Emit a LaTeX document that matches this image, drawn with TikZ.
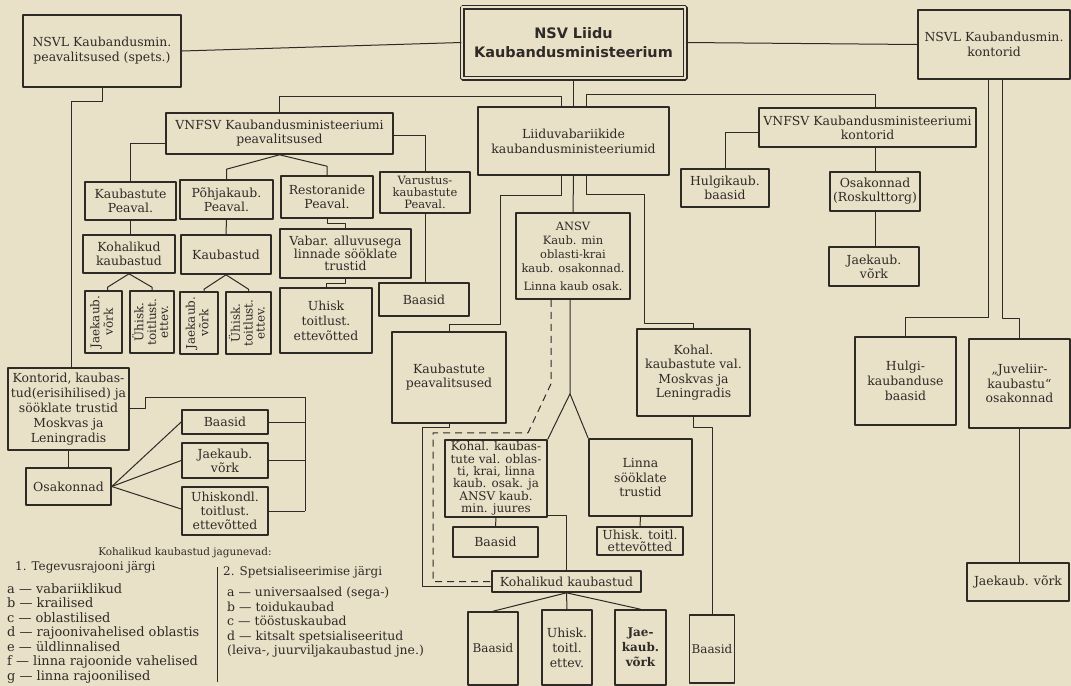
\documentclass[tikz,border=0pt]{standalone}
\usepackage{fontspec}
\setmainfont{DejaVu Serif}
\newfontfamily\titlefont{DejaVu Sans}
\definecolor{paper}{RGB}{233,224,200}
\definecolor{ink}{RGB}{46,42,38}
\begin{document}
\begin{tikzpicture}[line join=bevel,
  box/.style={draw=ink,text=ink,line width=1.6bp,rectangle,inner sep=1bp,align=center,font=\fontsize{12.5}{14}\selectfont},
  mainbox/.style={box,line width=2.4bp,font=\fontsize{12.5}{15}\selectfont},
  titlebox/.style={box,line width=1.5bp,double=paper,double distance=2bp,font=\titlefont\bfseries\fontsize{14.5}{19}\selectfont},
  wh/.style 2 args={minimum width=#1,minimum height=#2},
  link/.style={draw=ink,line width=1bp},
  legend/.style={text=ink,inner sep=0pt},
]
\path [use as bounding box,fill=paper] (0bp,0bp) rectangle (1071bp,-686bp);
%%
\node (nsvl_peav) at (102bp,-51bp) [mainbox,wh={158bp}{72bp}] {NSVL Kaubandusmin.\\peavalitsused (spets.)};
  \node (nsv_liidu) at (573.5bp,-42.5bp) [titlebox,wh={223bp}{71bp}] {NSV Liidu\\Kaubandusministeerium};
  \node (nsvl_kont) at (994bp,-44.5bp) [mainbox,wh={152bp}{69bp}] {NSVL Kaubandusmin.\\kontorid};
  \node (liiduvab) at (573.5bp,-141bp) [mainbox,wh={191bp}{68bp}] {Liiduvabariikide\\kaubandusministeeriumid};
  \node (vnfsv_peav) at (279.5bp,-133.5bp) [box,wh={227bp}{41bp}] {VNFSV Kaubandusministeeriumi\\peavalitsused};
  \node (vnfsv_kont) at (867.5bp,-127.5bp) [box,wh={217bp}{39bp}] {VNFSV Kaubandusministeeriumi\\kontorid};
%
\node (kaub_peav) at (130.5bp,-201bp) [box,wh={91bp}{38bp}] {Kaubastute\\Peaval.};
  \node (pohj_peav) at (226.5bp,-199.5bp) [box,wh={93bp}{39bp}] {Põhjakaub.\\Peaval.};
  \node (rest_peav) at (327bp,-197bp) [box,wh={92bp}{42bp}] {Restoranide\\Peaval.};
  \node (varu_peav) at (425bp,-192.5bp) [box,wh={90bp}{41bp},font=\fontsize{11.5}{12}\selectfont] {Varustus-\\kaubastute\\Peaval.};
  \node (koh_kaub_a) at (129bp,-254bp) [box,wh={92bp}{38bp}] {Kohalikud\\kaubastud};
  \node (kaubastud) at (226bp,-254.5bp) [box,wh={90bp}{39bp}] {Kaubastud};
  \node (vabar_trust) at (345.5bp,-253.5bp) [box,wh={131bp}{49bp},font=\fontsize{12.5}{12.5}\selectfont] {Vabar. alluvusega\\linnade sööklate\\trustid};
  \node (baasid_a) at (424bp,-299.5bp) [box,wh={90bp}{33bp}] {Baasid};
  \node (jae_a) at (103.5bp,-322bp) [box,wh={37bp}{62bp},font=\fontsize{12}{13.5}\selectfont] {\rotatebox{90}{\begin{tabular}{@{}c@{}}Jaekaub.\\võrk\end{tabular}}};
  \node (yhisk_a) at (152bp,-322bp) [box,wh={44bp}{62bp},font=\fontsize{12}{12}\selectfont] {\rotatebox{90}{\begin{tabular}{@{}c@{}}Ühisk.\\toitlust.\\ettev.\end{tabular}}};
  \node (jae_b) at (199bp,-323bp) [box,wh={38bp}{62bp},font=\fontsize{12}{13.5}\selectfont] {\rotatebox{90}{\begin{tabular}{@{}c@{}}Jaekaub.\\võrk\end{tabular}}};
  \node (yhisk_b) at (248.5bp,-323bp) [box,wh={45bp}{62bp},font=\fontsize{12}{12}\selectfont] {\rotatebox{90}{\begin{tabular}{@{}c@{}}Ühisk.\\toitlust.\\ettev.\end{tabular}}};
  \node (yhisk_c) at (326bp,-320.5bp) [box,wh={92bp}{65bp},font=\fontsize{12.5}{15}\selectfont] {Uhisk\\toitlust.\\ettevõtted};
%
\node (kontorid) at (68.5bp,-409bp) [box,wh={121bp}{82bp},font=\fontsize{12.5}{15}\selectfont] {Kontorid, kaubas-\\tud(erisihilised) ja\\sööklate trustid\\Moskvas ja\\Leningradis};
  \node (osak_a) at (68.5bp,-486.5bp) [box,wh={85bp}{37bp}] {Osakonnad};
  \node (baasid_b) at (225bp,-422bp) [box,wh={86bp}{24bp}] {Baasid};
  \node (jae_c) at (225bp,-460.5bp) [box,wh={86bp}{35bp}] {Jaekaub.\\võrk};
  \node (yhisk_d) at (225bp,-511bp) [box,wh={86bp}{48bp}] {Uhiskondl.\\toitlust.\\ettevõtted};
  \coordinate (bus_top) at (305bp,-397bp);
%
\node (ansv) at (573bp,-256bp) [box,wh={114bp}{86bp},font=\fontsize{11.5}{14}\selectfont] {ANSV\\Kaub. min\\oblasti-krai\\kaub. osakonnad.\\[4bp]Linna kaub osak.};
  \node (kaub_pv) at (449bp,-377.5bp) [box,wh={114bp}{91bp}] {Kaubastute\\peavalitsused};
  \node (koh_mosk) at (693.5bp,-372.5bp) [box,wh={113bp}{87bp},font=\fontsize{12.5}{14.5}\selectfont] {Kohal.\\kaubastute val.\\Moskvas ja\\Leningradis};
  \node (koh_val) at (496bp,-478.5bp) [box,wh={102bp}{77bp},inner sep=0.5bp,font=\fontsize{12}{12.4}\selectfont] {Kohal. kaubas-\\tute val. oblas-\\ti, krai, linna\\kaub. osak. ja\\ANSV kaub.\\min. juures};
  \node (linna_trust) at (640.5bp,-477.5bp) [box,wh={103bp}{77bp},font=\fontsize{12.5}{15}\selectfont] {Linna\\sööklate\\trustid};
  \node (baasid_c) at (495.5bp,-542bp) [box,wh={85bp}{30bp}] {Baasid};
  \node (yhisk_e) at (640bp,-541bp) [box,wh={86bp}{28bp},font=\fontsize{12.5}{12.5}\selectfont] {Uhisk. toitl.\\ettevõtted};
  \node (koh_kaub_b) at (566.5bp,-581.5bp) [box,wh={149bp}{21bp}] {Kohalikud kaubastud};
  \node (baasid_d) at (493bp,-648.5bp) [box,wh={50bp}{73bp},font=\fontsize{12}{14}\selectfont] {Baasid};
  \node (yhisk_f) at (567bp,-647.5bp) [box,wh={50bp}{75bp},font=\fontsize{12.5}{15}\selectfont] {Uhisk.\\toitl.\\ettev.};
  \node (jae_d) at (640.5bp,-647.5bp) [box,wh={51bp}{75bp},font=\bfseries\fontsize{12}{15}\selectfont] {Jae-\\kaub.\\võrk};
  \node (baasid_e) at (712bp,-649bp) [box,wh={45bp}{68bp},font=\fontsize{12}{14}\selectfont] {Baasid};
%
\node (hulg_baas) at (725bp,-188bp) [box,wh={88bp}{38bp}] {Hulgikaub.\\baasid};
  \node (osak_rosk) at (875bp,-191.5bp) [box,wh={90bp}{39bp}] {Osakonnad\\(Roskulttorg)};
  \node (jae_e) at (874bp,-266.5bp) [box,wh={90bp}{39bp}] {Jaekaub.\\võrk};
  \node (hulgi_baas) at (905.5bp,-381bp) [box,wh={101bp}{88bp},font=\fontsize{12.5}{15}\selectfont] {Hulgi-\\kaubanduse\\baasid};
  \node (juvel_osak) at (1019.5bp,-383.5bp) [box,wh={101bp}{89bp},font=\fontsize{12.5}{14.5}\selectfont] {„Juveliir-\\kaubastu“\\osakonnad};
  \node (jae_f) at (1018bp,-582bp) [box,wh={102bp}{38bp}] {Jaekaub. võrk};
%
\draw [link] (nsvl_peav.east) -- (nsv_liidu.west);
  \draw [link] (nsv_liidu.east) -- (nsvl_kont.west);
  \draw [link] (nsv_liidu.south) -- (liiduvab.north);
  \draw [link] ([xshift=-12bp]liiduvab.north) -- ++(0,9bp) -| (vnfsv_peav.north);
  \draw [link] ([xshift=13bp]liiduvab.north) -- ++(0,11bp) -| (vnfsv_kont.north -| osak_rosk.north);
  \draw [link] (nsvl_peav.south) -- ++(0,-13bp) -| ([xshift=2.5bp]kontorid.north);
  \draw [link] ([yshift=-10bp]vnfsv_peav.west) -| (kaub_peav.north);
  \draw [link] (vnfsv_peav.south) -- ([yshift=10bp]pohj_peav.north) -- (pohj_peav.north);
  \draw [link] (vnfsv_peav.south) -- ([yshift=9bp]rest_peav.north) -- (rest_peav.north);
  \draw [link] ([yshift=-1.5bp]vnfsv_peav.east) -| (varu_peav.north);
  \draw [link] (kaub_peav.south) -- (kaub_peav.south |- koh_kaub_a.north);
  \draw [link] (pohj_peav.south) -- (kaubastud.north);
  \draw [link] (rest_peav.south) -- ++(0,-5bp) -| (vabar_trust.north);
  \draw [link] (vabar_trust.south) -- ++(0,-5bp) -| (yhisk_c.north);
  \draw [link] (varu_peav.south) -- (varu_peav.south |- baasid_a.north);
  \draw [link] (koh_kaub_a.south) -- ([xshift=4bp,yshift=3bp]jae_a.north) -- ([xshift=4bp]jae_a.north);
  \draw [link] (koh_kaub_a.south) -- ([yshift=3bp]yhisk_a.north) -- (yhisk_a.north);
  \draw [link] (kaubastud.south) -- ([xshift=5bp,yshift=2bp]jae_b.north) -- ([xshift=5bp]jae_b.north);
  \draw [link] (kaubastud.south) -- ([yshift=2bp]yhisk_b.north) -- (yhisk_b.north);
%
\draw [link] (kontorid.south) -- (osak_a.north);
  \draw [link] (osak_a.east) -- (baasid_b.west);
  \draw [link] (osak_a.east) -- (jae_c.west);
  \draw [link] (osak_a.east) -- ([yshift=2bp]yhisk_d.west);
  \draw [link] ([yshift=1bp]kontorid.east) -- ++(16bp,0) |- (bus_top) -- (bus_top |- yhisk_d.east);
  \draw [link] (baasid_b.east) -- (baasid_b.east -| bus_top);
  \draw [link] (jae_c.east) -- (jae_c.east -| bus_top);
  \draw [link] (yhisk_d.east) -- (yhisk_d.east -| bus_top);
%
\draw [link] (liiduvab.south) -- (ansv.north);
  \draw [link] ([xshift=-12bp]liiduvab.south) -- ++(0,-19bp) -- ++(-61bp,0) -- ++(0,-129bp) -| (kaub_pv.north);
  \draw [link] ([xshift=13bp]liiduvab.south) -- ++(0,-18bp) -- ++(58bp,0) -- ++(0,-129bp) -| (koh_mosk.north);
  \coordinate (fork) at ([xshift=-3bp,yshift=-94bp]ansv.south);
  \draw [link] ([xshift=-3bp]ansv.south) -- (fork) -- (koh_val.north east);
  \draw [link] (fork) -- (linna_trust.north west);
  \draw [link,dash pattern=on 7bp off 5bp] ([xshift=-22bp]ansv.south) -- ++(0,-84bp) -- ++(-23bp,-49bp) -- ++(-95bp,0) |- (koh_kaub_b.west);
  \draw [link] (kaub_pv.south) -- ++(0,-4bp) -- ++(-27bp,0) |- ([yshift=-5bp]koh_kaub_b.west);
  \draw [link] ([yshift=2bp]koh_val.south east) -| (koh_kaub_b.north);
  \draw [link] (koh_val.south) -- (baasid_c.north);
  \draw [link] (linna_trust.south) -- (yhisk_e.north);
  \draw [link] (koh_mosk.south) -- ++(0,-11bp) -| (baasid_e.north);
  \draw [link] (koh_kaub_b.south) -- (baasid_d.north);
  \draw [link] (koh_kaub_b.south) -- (yhisk_f.north);
  \draw [link] (koh_kaub_b.south) -- (jae_d.north);
%
\draw [link] ([yshift=-4.5bp]vnfsv_kont.west) -| (hulg_baas.north);
  \draw [link] (vnfsv_kont.south -| osak_rosk.north) -- (osak_rosk.north);
  \draw [link] (osak_rosk.south) -- (osak_rosk.south |- jae_e.north);
  \draw [link] ([xshift=-6bp]nsvl_kont.south) -- ++(0,-237bp) -| (hulgi_baas.north);
  \draw [link] ([xshift=8bp]nsvl_kont.south) -- ++(0,-238bp) -| (juvel_osak.north);
  \draw [link] (juvel_osak.south) -- (juvel_osak.south |- jae_f.north);
%
\node (legend_title) at (185bp,-553bp) [legend,font=\fontsize{10.5}{12}\selectfont] {Kohalikud kaubastud jagunevad:};
  \node (list_one_head) at (15bp,-567bp) [legend,anchor=west,font=\fontsize{12}{14}\selectfont] {1. Tegevusrajooni järgi};
  \node (list_one) at (7bp,-583.5bp) [legend,anchor=north west,align=left,font=\fontsize{13}{14.5}\selectfont] {a — vabariiklikud\\b — krailised\\c — oblastilised\\d — rajoonivahelised oblastis\\e — üldlinnalised\\f — linna rajoonide vahelised\\g — linna rajoonilised};
  \node (list_two_head) at (223bp,-572bp) [legend,anchor=west,font=\fontsize{12}{14}\selectfont] {2. Spetsialiseerimise järgi};
  \node (list_two) at (227bp,-587bp) [legend,anchor=north west,align=left,font=\fontsize{12.5}{14.5}\selectfont] {a — universaalsed (sega-)\\b — toidukaubad\\c — tööstuskaubad\\d — kitsalt spetsialiseeritud\\(leiva-, juurviljakaubastud jne.)};
  \draw [link] (217bp,-567bp) -- (217bp,-682bp);
%
\end{tikzpicture}
\end{document}
